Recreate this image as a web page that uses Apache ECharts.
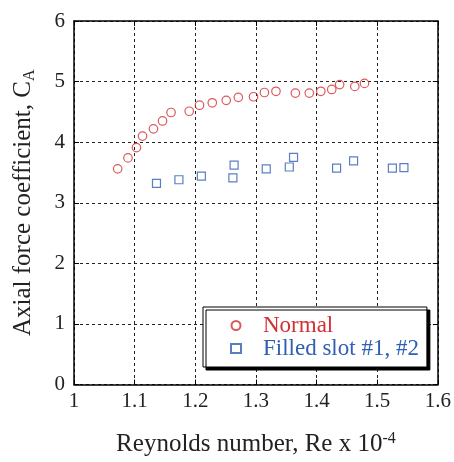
<!DOCTYPE html>
<html>
<head>
<meta charset="utf-8">
<script src="https://cdn.jsdelivr.net/npm/echarts@6/dist/echarts.min.js"></script>
<style>
  html, body { margin: 0; padding: 0; background: #fff; }
  #chart { width: 454px; height: 462px; }
</style>
</head>
<body>
<div id="chart"></div>
<script>
// Reynolds number (x 10^-4) and axial force coefficient
const normalRe = [1.072, 1.089, 1.103, 1.113, 1.131, 1.146, 1.160, 1.190, 1.207, 1.228, 1.251,
  1.271, 1.296, 1.314, 1.333, 1.365, 1.388, 1.407, 1.425, 1.438, 1.463, 1.479]
const normalCA = [3.56, 3.74, 3.91, 4.10, 4.22, 4.35, 4.49, 4.51, 4.61, 4.65, 4.69,
  4.74, 4.75, 4.82, 4.84, 4.81, 4.81, 4.84, 4.87, 4.95, 4.92, 4.97]
const filledRe = [1.136, 1.173, 1.210, 1.264, 1.262, 1.317, 1.355, 1.362, 1.433, 1.461, 1.525, 1.544]
const filledCA = [3.32, 3.38, 3.44, 3.62, 3.41, 3.56, 3.59, 3.75, 3.57, 3.69, 3.57, 3.58]
const seriesNames = ['Normal', 'Filled slot #1, #2']

const red = '#d22f36'
const blue = '#2f5fb3'
const font = '"Liberation Serif", "Times New Roman", serif'

function pairs(xs, ys) {
  return xs.map((x, i) => [x, ys[i]])
}

const chart = echarts.init(document.getElementById('chart'))

const frameAxis = {
  axisLine: { show: true, onZero: false, lineStyle: { color: '#000', width: 1.5 } },
  axisTick: { show: true, inside: true, length: 5, lineStyle: { color: '#000' } },
}

const options = {
  animation: false,
  textStyle: { fontFamily: font },
  grid: { left: 74, right: 15, top: 21, bottom: 76 },
  legend: {
    orient: 'vertical',
    left: 203,
    top: 307,
    padding: [7, 8, 7, 27],
    itemGap: 0,
    itemWidth: 10,
    itemHeight: 9,
    backgroundColor: '#fff',
    borderColor: '#000',
    borderWidth: 1,
    borderRadius: 0,
    shadowColor: '#000',
    shadowBlur: 0,
    shadowOffsetX: 3,
    shadowOffsetY: 3,
    textStyle: { fontFamily: font, fontSize: 23, padding: [0, 0, 0, 17] },
    data: [
      { name: seriesNames[0], textStyle: { color: red } },
      { name: seriesNames[1], textStyle: { color: blue } },
    ],
  },
  xAxis: [
    {
      type: 'value',
      min: 1,
      max: 1.6,
      interval: 0.1,
      ...frameAxis,
      axisLabel: { color: '#222', fontSize: 21, fontFamily: font, margin: 6 },
      splitLine: { show: true, lineStyle: { color: '#222', type: [3, 3], width: 1 } },
      name: 'Reynolds number, Re x 10{sup|-4}',
      nameLocation: 'middle',
      nameGap: 46,
      nameTextStyle: {
        color: '#222', fontSize: 25, fontFamily: font,
        rich: { sup: { fontSize: 16, verticalAlign: 'top', padding: [0, 0, 12, 0], fontFamily: font, color: '#222' } },
      },
    },
    {
      type: 'value',
      position: 'top',
      min: 1,
      max: 1.6,
      interval: 0.1,
      ...frameAxis,
      axisLabel: { show: false },
      splitLine: { show: false },
    },
  ],
  yAxis: [
    {
      type: 'value',
      min: 0,
      max: 6,
      interval: 1,
      ...frameAxis,
      axisLabel: { color: '#222', fontSize: 21, fontFamily: font, margin: 9 },
      splitLine: { show: true, lineStyle: { color: '#222', type: [3, 3], width: 1 } },
      name: 'Axial force coefficient, C{sub|A}',
      nameLocation: 'middle',
      nameRotate: 90,
      nameGap: 36,
      nameTextStyle: {
        color: '#222', fontSize: 25, fontFamily: font,
        rich: { sub: { fontSize: 16, padding: [13, 0, 0, 0], fontFamily: font, color: '#222' } },
      },
    },
    {
      type: 'value',
      position: 'right',
      min: 0,
      max: 6,
      interval: 1,
      ...frameAxis,
      axisLabel: { show: false },
      splitLine: { show: false },
    },
  ],
  series: [
    {
      name: seriesNames[0],
      type: 'scatter',
      symbol: 'circle',
      symbolSize: 8.5,
      itemStyle: { color: 'rgba(255,255,255,0)', borderColor: red, borderWidth: 1.2 },
      data: pairs(normalRe, normalCA),
    },
    {
      name: seriesNames[1],
      type: 'scatter',
      symbol: 'rect',
      symbolSize: 8,
      itemStyle: { color: 'rgba(255,255,255,0)', borderColor: blue, borderWidth: 1.2 },
      data: pairs(filledRe, filledCA),
    },
  ],
}

options && chart.setOption(options, false)
</script>
</body>
</html>
